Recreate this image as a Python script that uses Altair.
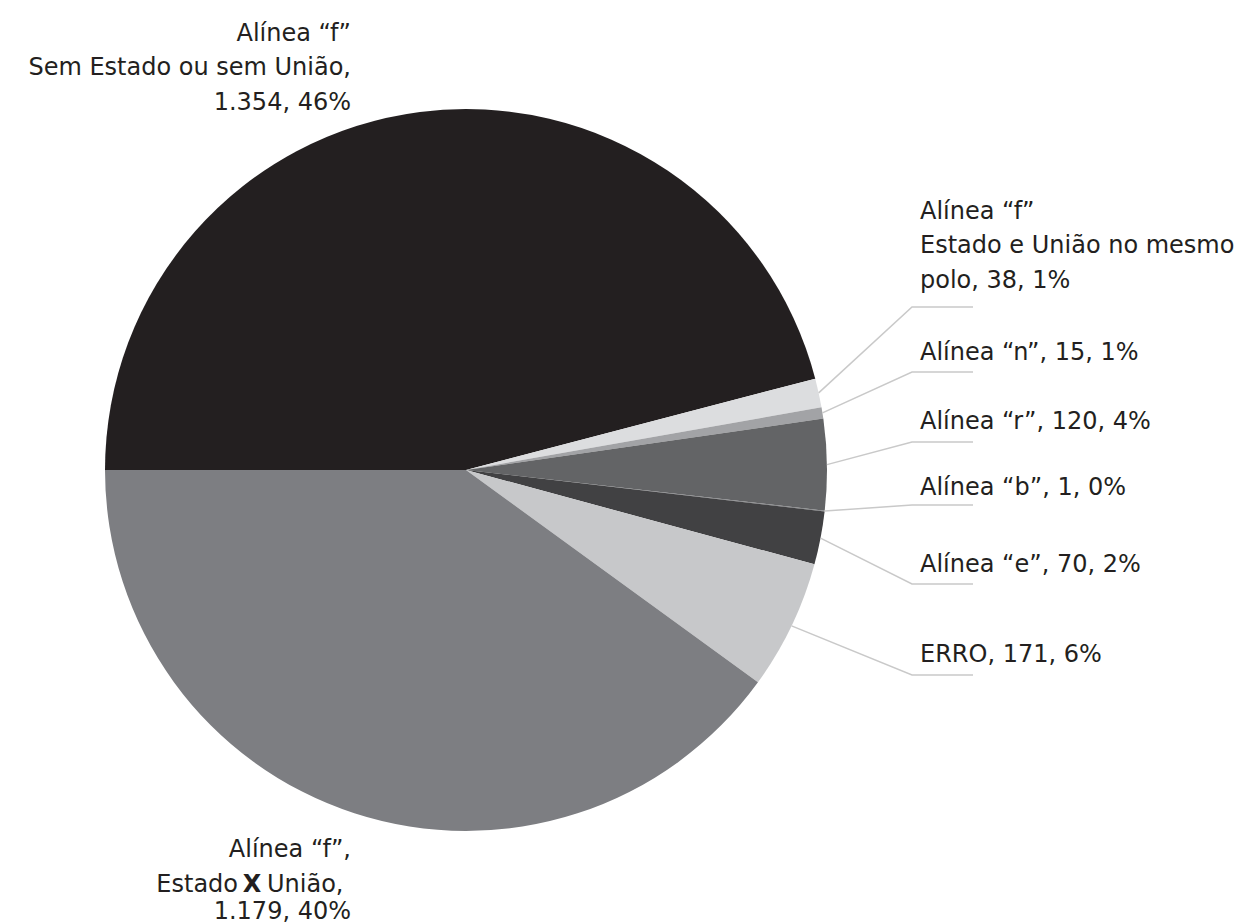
import altair as alt
import numpy as np
import pandas as pd

# --- data -----------------------------------------------------------------
categories = [
    "Alínea “f” Sem Estado ou sem União",
    "Alínea “f” Estado e União no mesmo polo",
    "Alínea “n”",
    "Alínea “r”",
    "Alínea “b”",
    "Alínea “e”",
    "ERRO",
    "Alínea “f”, Estado X União",
]
values = [1354, 38, 15, 120, 1, 70, 171, 1179]
colors = ["#231f20", "#dcdddf", "#a2a3a6", "#636466", "#7a7b7e",
          "#414143", "#c7c8ca", "#7d7e82"]

# label lines for each slice (right-hand labels carry a leader line)
label_lines = [
    ["Alínea “f”", "Sem Estado ou sem União,", "{n}, {p}%"],
    ["Alínea “f”", "Estado e União no mesmo", "polo, {n}, {p}%"],
    ["Alínea “n”, {n}, {p}%"],
    ["Alínea “r”, {n}, {p}%"],
    ["Alínea “b”, {n}, {p}%"],
    ["Alínea “e”, {n}, {p}%"],
    ["ERRO, {n}, {p}%"],
    ["Alínea “f”,", None, "{n}, {p}%"],
]

# --- layout ---------------------------------------------------------------
W, H = 1255, 922
CX, CY, R = 466, 470, 361
FONT = "DejaVu Sans"
FS = 24
INK = "#231f20"
LEADER = "#c9c9c9"

# right-hand label block: leader elbow x, underline end x, text x
ELBOW_X, LINE_END_X, TEXT_X = 912, 973, 920
leader_y = {1: 307, 2: 372, 3: 442, 4: 505, 5: 584, 6: 675}
text_baselines = {
    0: [41, 75, 110],
    1: [219, 253, 288],
    2: [360],
    3: [429],
    4: [495],
    5: [572],
    6: [662],
    7: [857, 892, 919],
}
LEFT_TEXT_X = 351

total = sum(values)


def fmt_int(v):
    return f"{v:,}".replace(",", ".")


def pct(v):
    return int(np.floor(100 * v / total + 0.5))


# --- pie ------------------------------------------------------------------
pie_df = pd.DataFrame({"categoria": categories, "valor": values,
                       "ordem": list(range(len(values)))})

pie = alt.Chart(pie_df).mark_arc(outerRadius=R, stroke=None).encode(
    theta=alt.Theta("valor:Q", stack=True,
                    scale=alt.Scale(range=[1.5 * np.pi, 3.5 * np.pi])),
    order=alt.Order("ordem:Q"),
    color=alt.Color("categoria:N",
                    scale=alt.Scale(domain=categories, range=colors),
                    legend=None),
    x=alt.value(CX),
    y=alt.value(CY),
)

# --- leader lines (start at the outer edge of each slice's mid-angle) -----
cum = np.cumsum([0] + values[:-1])
rows = []
for i, (v, c0) in enumerate(zip(values, cum)):
    if i not in leader_y:
        continue
    frac = (c0 + v / 2) / total
    a = 1.5 * np.pi + 2 * np.pi * frac
    sx = CX + R * np.sin(a)
    sy = CY - R * np.cos(a)
    ly = leader_y[i]
    for step, (px, py) in enumerate([(sx, sy), (ELBOW_X, ly), (LINE_END_X, ly)]):
        rows.append({"slice": i, "step": step, "x": px, "y": py})
lead_df = pd.DataFrame(rows)

leaders = alt.Chart(lead_df).mark_line(color=LEADER, strokeWidth=1.5).encode(
    x=alt.X("x:Q", scale=None, axis=None),
    y=alt.Y("y:Q", scale=None, axis=None),
    detail="slice:N",
    order="step:Q",
)

# --- labels ---------------------------------------------------------------
left_rows, right_rows = [], []
for i, lines in enumerate(label_lines):
    for line, base in zip(lines, text_baselines[i]):
        if line is None:
            continue
        txt = line.format(n=fmt_int(values[i]), p=pct(values[i]))
        if i in (0, 7):
            left_rows.append({"x": LEFT_TEXT_X, "y": base, "t": txt})
        else:
            right_rows.append({"x": TEXT_X, "y": base, "t": txt})

# middle line of the bottom label mixes a bold "X" into the text
mid_base = text_baselines[7][1]
left_rows.append({"x": 238, "y": mid_base, "t": "Estado"})
mid_right_df = pd.DataFrame([{"x": 267, "y": mid_base, "t": "União,"}])
bold_df = pd.DataFrame([{"x": 252, "y": mid_base, "t": "X"}])


def text_layer(df, align, weight="normal"):
    return alt.Chart(df).mark_text(
        align=align, baseline="alphabetic", font=FONT, fontSize=FS,
        fontWeight=weight, color=INK,
    ).encode(
        x=alt.X("x:Q", scale=None, axis=None),
        y=alt.Y("y:Q", scale=None, axis=None),
        text="t:N",
    )


labels_left = text_layer(pd.DataFrame(left_rows), "right")
labels_right = text_layer(pd.DataFrame(right_rows), "left")
label_mid = text_layer(mid_right_df, "left")
label_bold = text_layer(bold_df, "center", "bold")

chart = alt.layer(pie, leaders, labels_left, labels_right, label_mid,
                  label_bold).properties(
    width=W, height=H, padding=0, background="white",
    autosize=alt.AutoSizeParams(type="none"),
).configure_view(stroke=None)

chart.save("out.html", embed_options={"renderer": "svg", "actions": False})
